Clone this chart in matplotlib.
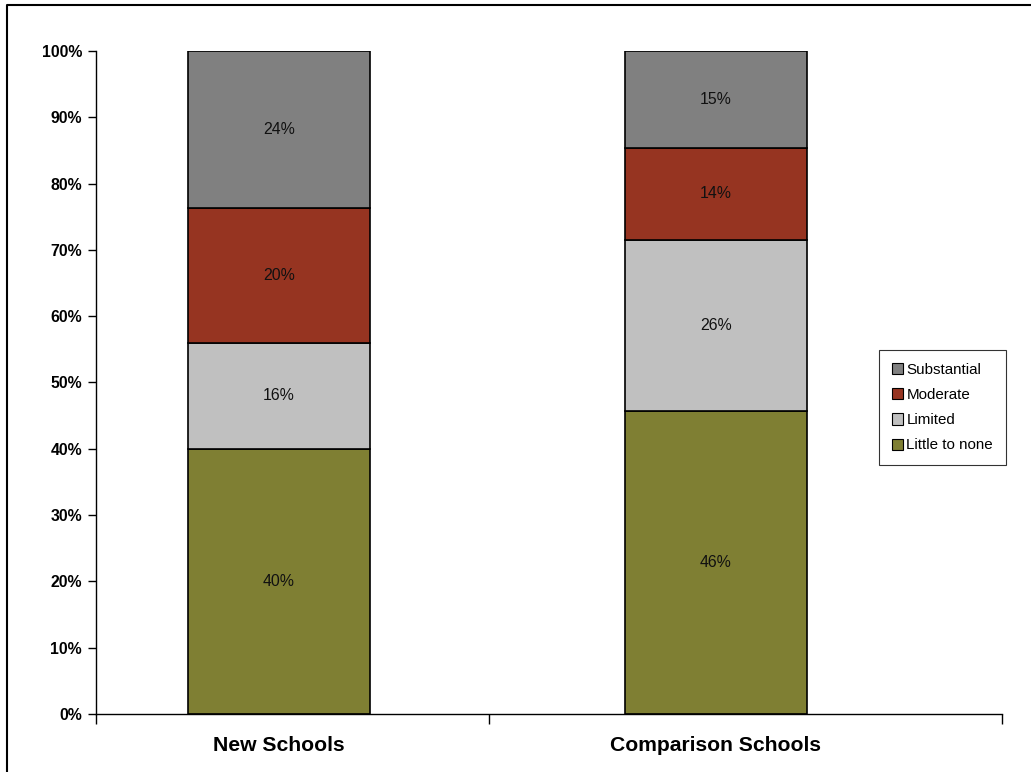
import matplotlib
matplotlib.use("Agg")
import matplotlib.pyplot as plt
from matplotlib.lines import Line2D
from matplotlib.patches import Patch
import numpy as np

plt.rcParams['font.family'] = ['Liberation Sans', 'DejaVu Sans']

categories = ["New Schools", "Comparison Schools"]
series_names = ["Little to none", "Limited", "Moderate", "Substantial"]
little_to_none = [40.0, 45.7]
limited = [16.0, 25.8]
moderate = [20.3, 13.9]
substantial = [23.7, 14.6]
labels = [["40%", "46%"], ["16%", "26%"], ["20%", "14%"], ["24%", "15%"]]
colors = ["#7F7F33", "#C0C0C0", "#963421", "#808080"]
yticks = list(range(0, 101, 10))

W, H = 1031, 772
fig = plt.figure(figsize=(W / 100, H / 100), dpi=100)
ax = fig.add_axes([96 / W, 1 - 714 / H, (1002 - 96) / W, (714 - 51) / H])

x = np.arange(len(categories))
bar_w = 182 / 437
bottom = np.zeros(len(categories))
handles = []
for vals, name, col, labs in zip([little_to_none, limited, moderate, substantial],
                                 series_names, colors, labels):
    vals = np.array(vals)
    ax.bar(x, vals, bar_w, bottom=bottom, color=col, edgecolor="black", linewidth=1.2, zorder=2)
    for xi, b, v, lab in zip(x, bottom, vals, labs):
        ax.text(xi, b + v / 2, lab, ha="center", va="center", fontsize=11.4, color="#111111", zorder=3)
    bottom = bottom + vals
    handles.append(Patch(facecolor=col, edgecolor="black", linewidth=0.8, label=name))

ax.set_ylim(0, 100)
ax.set_xlim((96 - 279) / 437, (1002 - 279) / 437)
ax.set_yticks(yticks)
ax.set_yticklabels([f"{t}%" for t in yticks], fontsize=11.4, fontweight="bold")
ax.tick_params(axis="y", direction="out", length=6, width=1, pad=4)

ax.set_xticks(x)
ax.set_xticklabels(categories, fontsize=15.2, fontweight="bold")
ax.tick_params(axis="x", which="major", length=0, pad=16)
ax.set_xticks([(96 - 279) / 437, (489 - 279) / 437, (1002 - 279) / 437], minor=True)
ax.tick_params(axis="x", which="minor", direction="out", length=7, width=1)

for s in ["top", "right"]:
    ax.spines[s].set_visible(False)
for s in ["left", "bottom"]:
    ax.spines[s].set_linewidth(1)

leg = ax.legend(handles=handles[::-1], loc="upper left",
                bbox_to_anchor=((879 - 96) / (1002 - 96), (714 - 350) / (714 - 51)),
                frameon=True, fancybox=False, shadow=False, fontsize=10.9,
                handlelength=0.75, handleheight=0.75, handletextpad=0.2,
                labelspacing=0.74, borderpad=0.85, borderaxespad=0)
leg.get_frame().set_edgecolor("black")
leg.get_frame().set_linewidth(0.8)

# figure frame (partially cropped)
fig.add_artist(Line2D([7 / W, 7 / W, 1.0], [0.0, 1 - 4.5 / H, 1 - 4.5 / H],
                      transform=fig.transFigure, color="black", linewidth=1.5))

fig.savefig("out.png", dpi=100)
